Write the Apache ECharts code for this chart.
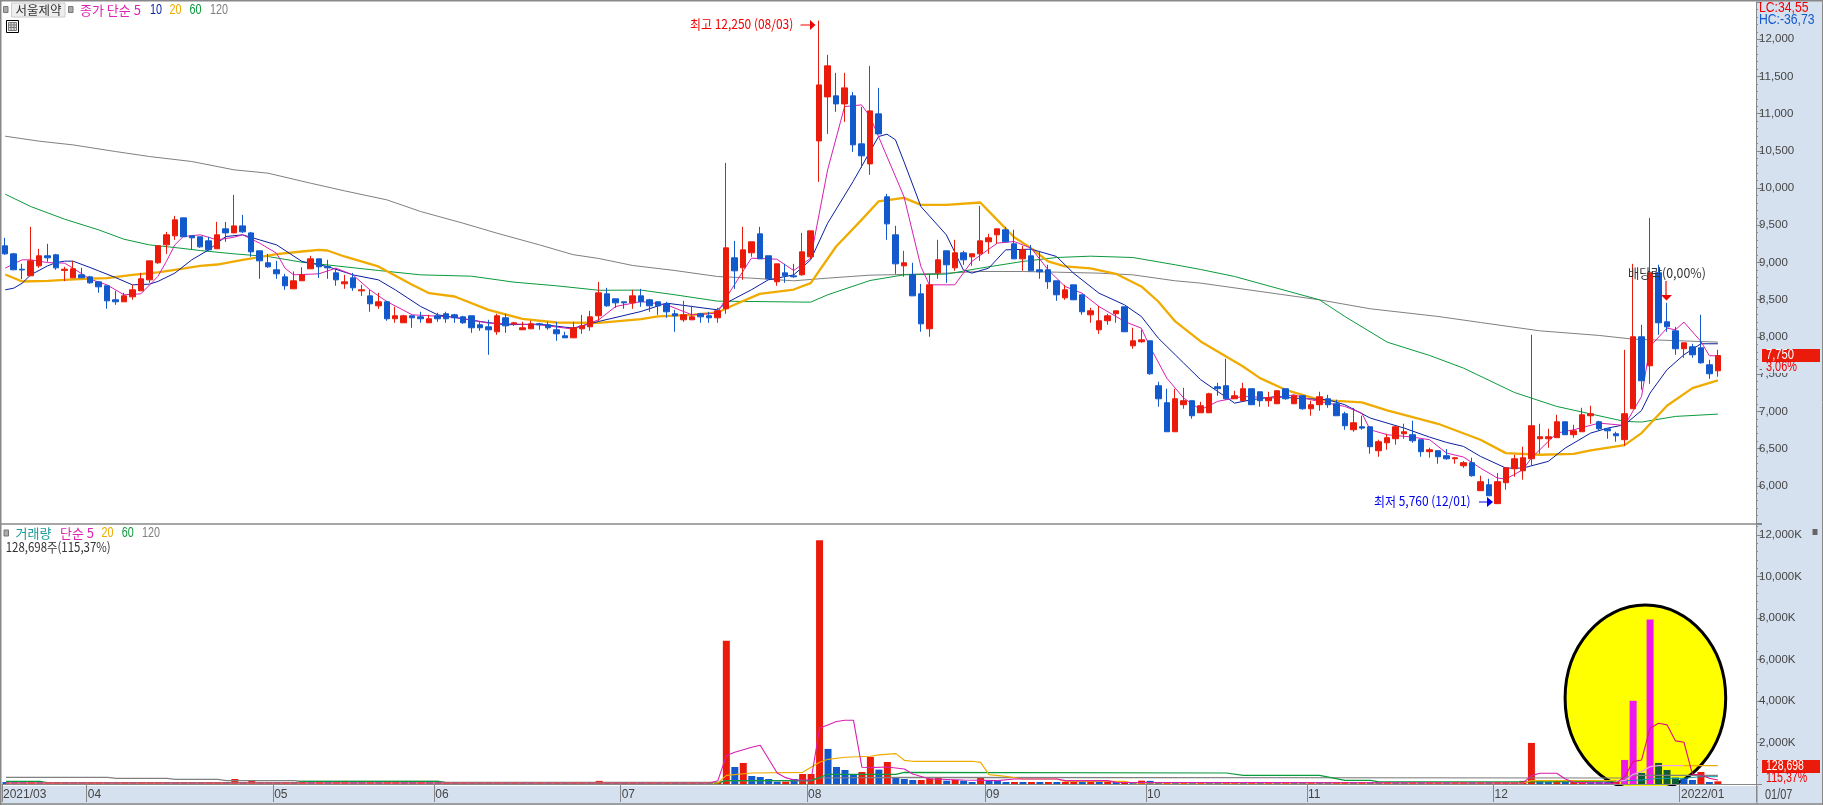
<!DOCTYPE html>
<html><head><meta charset="utf-8">
<style>html,body{margin:0;padding:0;background:#fff;overflow:hidden}#c{width:1823px;height:805px}</style>
<script src="https://cdn.jsdelivr.net/npm/echarts@6/dist/echarts.min.js"></script>
</head><body><div id="c"></div>
<script>
const opens=[9224,9116,8910,8821,8955,9090,9103,8893,8794,8834,
8807,8740,8687,8499,8472,8539,8619,8767,8996,9237,
9358,9600,9358,9345,9291,9184,9452,9398,9492,9398,
9157,8996,8902,8807,8646,8754,8915,9049,8946,8861,
8714,8794,8619,8552,8418,8472,8244,8190,8284,8270,
8190,8284,8311,8297,8270,8284,8163,8136,8069,8257,
8176,8096,8109,8176,8163,8096,8015,7988,8109,8136,
8284,8579,8512,8472,8458,8552,8499,8472,8445,8311,
8230,8230,8311,8284,8257,8378,9063,8929,9130,9385,
9090,8741,8861,8821,8835,9076,10634,11225,11239,11131,
11239,10594,10325,10997,9882,9372,8955,8834,8579,8109,
8861,9157,8928,9130,9076,9117,9278,9372,9439,9251,
9049,9090,8902,8902,8754,8525,8700,8566,8297,8096,
8217,8311,8405,7881,7935,7948,7344,7116,6726,7089,
7143,6981,6981,7331,7344,7169,7143,7304,7263,7143,
7102,7304,7102,7210,7035,7089,7169,7102,6968,6753,
6793,6793,6471,6578,6632,6699,6686,6619,6458,6471,
6404,6363,6269,6310,5934,6014,5760,6041,6229,6202,
6363,6632,6632,6646,6860,6686,6726,6941,6860,6766,
6699,6619,7035,8002,7612,8862,8203,8082,7841,7868,7854,7626,7545];
const closes=[9116,8902,8900,9022,9090,9063,8928,8910,8915,8794,
8727,8673,8485,8472,8552,8633,8781,9022,9224,9372,
9573,9345,9331,9210,9170,9372,9398,9492,9412,9143,
9022,8942,8848,8687,8754,8834,9049,8942,8928,8767,
8740,8660,8633,8445,8472,8244,8284,8284,8257,8244,
8244,8244,8244,8257,8190,8123,8123,8096,8284,8149,
8190,8123,8176,8163,8123,8042,7988,8123,8149,8270,
8592,8418,8458,8458,8552,8472,8418,8418,8338,8284,
8297,8270,8270,8257,8351,9197,8888,9170,9278,9049,
8781,8982,8821,8808,9143,9425,11386,11642,11131,11346,
10581,10433,11037,10728,9519,8982,8996,8552,8176,8700,
9036,8969,9130,9036,9117,9291,9332,9452,9278,9049,
9170,8888,8875,8741,8566,8633,8499,8338,8351,8217,
8284,8351,8069,7948,7961,7505,7169,6726,7169,7143,
6941,7075,7236,7304,7169,7210,7304,7089,7143,7183,
7277,7169,7210,7035,7089,7196,7089,6941,6807,6847,
6775,6525,6592,6646,6793,6726,6605,6458,6484,6390,
6363,6377,6310,6135,6055,5866,6055,6242,6363,6377,
6807,6659,6659,6860,6686,6739,6954,6968,6766,6739,
6672,6968,8002,7411,8862,8190,8136,7841,7921,7760,7653,7505,7750];
const highs=[9331,9130,8982,9479,9184,9251,9116,8942,9022,8928,
8821,8740,8687,8619,8593,8700,8861,9022,9224,9412,
9627,9600,9358,9345,9345,9546,9546,9909,9640,9412,
9157,9116,9022,8848,8880,8937,9090,9049,9036,8915,
8834,8861,8700,8633,8593,8485,8405,8297,8284,8338,
8297,8324,8338,8311,8284,8284,8203,8230,8311,8311,
8203,8203,8217,8190,8203,8203,8069,8203,8297,8351,
8740,8660,8512,8472,8633,8646,8512,8472,8472,8364,
8485,8418,8324,8338,8391,10339,9291,9479,9278,9479,
9090,8982,8982,8982,9399,9425,12250,11789,11548,11548,
11292,11091,11642,11346,9922,9493,9157,8996,8713,8834,
9305,9157,9305,9157,9117,9761,9385,9452,9479,9439,
9224,9237,9157,8969,8754,8700,8700,8566,8391,8418,
8311,8351,8405,8123,8096,7948,7398,7304,7304,7317,
7143,7129,7250,7384,7707,7277,7384,7304,7263,7263,
7277,7304,7223,7210,7143,7263,7223,7156,6995,7048,
6941,6793,6619,6699,6793,6834,6874,6619,6511,6471,
6493,6386,6332,6377,6135,6095,6171,6242,6417,6525,
8029,6833,6766,6954,6860,6820,7048,7075,6874,6766,
6726,7827,8982,8163,9600,8969,8459,8136,7921,7908,8297,7693,7827];
const lows=[9103,8902,8776,8821,8928,9009,8902,8749,8794,8794,
8714,8593,8378,8431,8472,8499,8619,8727,8982,9116,
9304,9345,9170,9197,9157,9184,9278,9398,9398,9076,
8781,8928,8781,8633,8646,8754,8915,8794,8781,8687,
8646,8619,8552,8338,8378,8217,8190,8190,8123,8190,
8190,8203,8190,8190,8176,8055,8082,7760,8029,8055,
8149,8096,8109,8096,8096,7948,7988,7988,8042,8082,
8217,8405,8391,8378,8378,8405,8338,8297,8257,8069,
8203,8230,8190,8190,8190,8311,8646,8767,9076,9049,
8767,8687,8727,8794,8821,9049,10084,10728,11024,10889,
10486,10272,10178,10728,9305,8848,8808,8552,8069,8002,
8781,8727,8888,8969,8955,9023,9117,9251,9278,9049,
8888,8888,8781,8646,8485,8499,8499,8297,8190,8042,
8163,8190,8069,7841,7921,7492,7062,6726,6726,7035,
6901,6981,6981,7210,7156,7169,7143,7089,7062,7062,
7102,7156,7102,7022,6941,7008,7048,6941,6753,6726,
6753,6431,6390,6484,6552,6632,6578,6390,6377,6296,
6350,6296,6242,6122,5934,5866,5760,5947,6122,6082,
6269,6430,6511,6646,6686,6645,6726,6833,6739,6632,
6592,6538,7035,7290,7371,8029,8069,7760,7720,7720,7639,7438,7465];
const volumes=[70,50,40,60,50,70,75,50,45,40,
70,80,60,50,60,50,70,75,80,60,
50,45,40,35,60,70,50,240,80,160,
70,60,55,70,50,55,45,60,50,65,
70,50,45,60,50,55,60,45,40,55,
45,40,60,50,65,50,45,40,50,45,
60,50,40,60,45,55,50,60,70,50,
150,70,50,45,60,40,55,50,90,80,
70,90,85,50,80,6900,820,1014,386,338,
241,113,113,241,483,483,11750,1690,820,676,
466,580,1304,692,1062,306,241,193,193,274,
290,161,193,161,97,290,161,145,64,80,
50,60,40,55,45,50,60,40,70,45,
50,40,60,50,160,150,60,80,50,70,
45,60,50,40,55,70,50,60,45,55,
40,60,50,45,70,50,40,60,80,60,
70,50,40,60,50,45,70,50,60,70,
50,60,80,50,60,45,70,85,100,150,
1980,193,64,113,32,60,113,70,60,50,
60,1159,4009,531,7921,1014,676,306,241,193,580,97,129];

const ma5=[[0,8924],[1,8982],[2,9036],[3,9036],[5,8999],[7,8991],[8,8924],[10,8776],[12,8700],[14,8566],[16,8579],[18,8812],[19,9013],[20,9237],[21,9349],[23,9372],[25,9304],[27,9340],[28,9372],[30,9260],[32,9125],[33,8924],[34,8834],[37,8848],[39,8924],[41,8834],[43,8633],[45,8476],[48,8297],[53,8266],[57,8185],[63,8163],[67,8105],[70,8230],[72,8409],[75,8476],[78,8432],[81,8297],[84,8320],[85,8521],[88,9058],[91,9045],[93,8892],[95,9058],[97,10245],[99,11095],[101,11118],[102,10961],[103,10692],[106,9887],[108,8946],[109,8700],[112,8700],[114,9014],[117,9260],[119,9282],[121,9193],[123,8902],[125,8678],[127,8588],[129,8409],[132,8208],[134,8118],[135,7872],[137,7447],[139,7178],[141,7022],[143,7134],[146,7201],[150,7178],[152,7223],[154,7156],[158,7066],[160,6977],[161,6753],[163,6686],[166,6654],[168,6619],[170,6440],[172,6386],[174,6238],[176,6104],[177,6090],[179,6216],[180,6372],[183,6708],[185,6753],[188,6842],[191,6811],[193,7200],[194,7872],[196,8118],[197,8096],[198,8199],[200,7939],[201,7747],[202,7747]];
const ma10=[[0,8633],[1,8655],[2,8722],[3,8834],[5,8955],[6,8999],[7,9018],[8,9018],[10,8933],[11,8888],[13,8798],[15,8700],[17,8709],[18,8745],[20,8857],[22,9036],[24,9170],[26,9349],[28,9372],[30,9304],[32,9237],[35,9014],[38,8946],[41,8834],[44,8767],[46,8633],[49,8409],[51,8297],[56,8208],[59,8163],[63,8172],[67,8118],[70,8208],[75,8342],[78,8454],[81,8409],[84,8364],[85,8454],[88,8633],[90,8767],[93,8834],[95,9036],[97,9528],[100,10088],[101,10289],[103,10692],[104,10724],[105,10648],[106,10357],[108,9752],[111,9372],[113,8902],[114,8857],[116,8924],[118,9170],[121,9179],[124,9081],[126,8857],[129,8588],[132,8432],[134,8275],[136,7984],[138,7760],[139,7648],[141,7425],[143,7268],[145,7111],[147,7156],[150,7201],[152,7178],[156,7156],[158,7089],[161,6910],[165,6775],[168,6654],[170,6583],[172,6529],[174,6395],[177,6238],[179,6238],[182,6328],[184,6507],[187,6708],[189,6775],[191,6820],[193,7012],[194,7245],[196,7559],[198,7760],[200,7908],[202,7908]];
const ma20=[[0,8839],[2,8745],[5,8754],[7,8767],[10,8785],[12,8790],[15,8834],[18,8866],[20,8902],[23,8955],[25,8973],[28,9036],[30,9072],[32,9112],[35,9148],[37,9170],[38,9161],[40,9081],[44,8947],[48,8700],[50,8588],[53,8543],[57,8364],[61,8243],[65,8194],[70,8190],[75,8239],[77,8275],[81,8297],[84,8329],[86,8432],[89,8579],[93,8637],[95,8723],[98,9215],[101,9573],[103,9820],[106,9869],[108,9775],[111,9775],[115,9806],[117,9573],[119,9340],[121,9193],[123,9014],[125,8947],[128,8920],[131,8848],[134,8678],[136,8476],[138,8208],[141,7939],[146,7603],[148,7447],[151,7290],[155,7155],[160,7120],[163,7012],[169,6833],[174,6618],[177,6439],[181,6417],[185,6430],[187,6475],[191,6547],[193,6708],[196,7075],[199,7312],[202,7415]];
const ma60=[[0,9918],[3,9752],[7,9582],[11,9439],[14,9313],[17,9237],[20,9201],[23,9161],[27,9116],[31,9080],[35,9004],[44,8893],[49,8834],[55,8816],[60,8736],[65,8687],[70,8627],[75,8629],[79,8566],[84,8481],[95,8467],[97,8566],[102,8758],[106,8834],[111,8844],[115,8924],[120,9014],[124,9067],[128,9085],[133,9067],[138,8969],[141,8906],[145,8812],[150,8655],[155,8499],[158,8275],[163,7930],[168,7751],[172,7581],[178,7254],[183,7066],[191,6865],[193,6856],[197,6932],[202,6963]];
const ma120=[[0,10697],[4,10630],[8,10580],[13,10491],[17,10424],[22,10357],[27,10245],[31,10200],[36,10066],[40,9963],[45,9842],[49,9685],[54,9528],[58,9394],[63,9237],[67,9105],[70,9054],[74,8960],[79,8892],[84,8812],[88,8790],[93,8754],[97,8790],[102,8830],[106,8839],[111,8857],[115,8879],[120,8879],[124,8870],[129,8857],[133,8834],[138,8754],[141,8723],[155,8499],[161,8378],[169,8275],[174,8194],[181,8082],[188,8020],[192,7970],[202,7930]];

const volMa5=[[0,48],[83,48],[84,161],[85,1368],[86,1530],[88,1771],[89,1868],[91,531],[92,306],[93,193],[95,193],[96,2689],[98,3011],[99,3075],[100,3075],[101,805],[102,789],[104,821],[106,725],[107,483],[109,241],[113,193],[117,161],[119,241],[124,241],[125,161],[130,161],[131,80],[179,48],[180,403],[181,515],[183,515],[184,241],[185,80],[190,32]];
const volMa5Spot=[[190,32],[191,354],[192,1079],[193,1159],[194,2689],[195,2930],[196,2850],[197,2077],[198,2012],[199,467],[200,435],[201,274],[202,193]];
const volMa20=[[0,40],[84,48],[85,418],[88,531],[94,563],[96,1046],[97,1190],[99,1288],[102,1336],[103,1400],[105,1465],[106,1143],[107,1095],[114,1095],[115,1046],[116,451],[118,370],[120,241],[124,241],[125,129],[132,129],[133,48],[179,48],[180,160],[190,160]];
const volMa20Spot=[[190,160],[191,161],[192,467],[193,596],[194,837],[195,885],[198,885]];
const volMa20Rest=[[198,885],[202,885]];
const volMa60=[[0,129],[4,129],[5,60],[34,60],[35,129],[51,129],[52,48],[84,48],[85,161],[95,161],[97,467],[105,467],[106,563],[144,531],[146,418],[155,418],[158,177],[161,177],[162,100],[180,100],[190,140]];
const volMa60Spot=[[190,140],[193,193],[195,274],[198,274],[200,354],[202,354]];
const volMa120=[[0,322],[12,322],[13,274],[19,274],[20,225],[25,225],[26,161],[34,161],[35,129],[51,129],[52,80],[84,80],[85,161],[95,161],[96,290],[106,322],[191,290],[192,418],[202,418]];

const monthIdx=[0,10,32,51,73,95,116,135,154,176,198];
const monthLbl=['2021/03','04','05','06','07','08','09','10','11','12','2022/01'];
const SLOTS=207;
const categories=Array.from({length:SLOTS},(_,i)=>{const k=monthIdx.indexOf(i);return k>=0?monthLbl[k]:'';});

const RED='#EA1B0B',BLUE='#1259CC',PINK='#EE18EE',DKGREEN='#0F5C37';
const STRIP='#D6E1EF',LINE='#888888',TXT='#444444';
const FONT='"Liberation Sans",sans-serif';
const KFONT='"Noto Sans CJK KR","Liberation Sans",sans-serif';

const candleData=opens.map((o,i)=>[o,closes[i],lows[i],highs[i]]);
const blueOverride=[93];
const volData=volumes.map((v,i)=>{
  let up=i===0?false:v>=volumes[i-1];
  if(blueOverride.includes(i))up=false;
  let c=up?RED:BLUE;
  if(i>=191&&i<=197)c=up?PINK:DKGREEN;
  return {value:v,itemStyle:{color:c}};
});

function line(name,data,color,width,gi){
  return {name,type:'line',data,xAxisIndex:gi,yAxisIndex:gi,symbol:'none',silent:true,z:gi?5:3,
    lineStyle:{color,width},animation:false};
}
function t(text,x,y,color,size,font,sx){
  return {type:'text',x,y,z:20,silent:true,scaleX:sx||1,scaleY:1,style:{text,fill:color,font:(size||14)+'px '+(font||FONT),textVerticalAlign:'middle',verticalAlign:'middle',align:'left'}};
}
function n(text,x,y,color,sx){return t(text,x,y,color,14,FONT,sx||0.77);}
function r(x,y,w,h,fill,z,stroke){
  return {type:'rect',silent:true,z,shape:{x,y,width:w,height:h},style:{fill,stroke:stroke||null,lineWidth:1}};
}
function l(x1,y1,x2,y2,color,z,w){
  return {type:'line',silent:true,z:z||20,shape:{x1,y1,x2,y2},style:{stroke:color,lineWidth:w||1}};
}
function tri(pts,color){
  return {type:'polygon',silent:true,z:20,shape:{points:pts},style:{fill:color}};
}
const tableIcon=[r(6.5,20.5,12,12,'#fff',20,'#000'),r(8.5,22.5,8,8,'#ddd',20,'#777'),l(8.5,25,16.5,25,'#777'),l(8.5,27.5,16.5,27.5,'#777'),l(11,22.5,11,30.5,'#777'),l(14,22.5,14,30.5,'#777')];

const graphics=[
  {type:'ellipse',silent:true,z:1,shape:{cx:1645.4,cy:698,rx:80.3,ry:93},style:{fill:'#FFFF00',stroke:'#000',lineWidth:3}},
  r(0,786,1823,19,STRIP,2),
  r(1757,0,66,805,STRIP,2),
  l(0,0.5,1823,0.5,LINE,3,2),
  l(0.5,0,0.5,805,LINE,3,2),
  l(1822.5,0,1822.5,805,LINE,3,1),
  l(0,524,1757,524,LINE,3,1.5),
  l(0,804,1823,804,LINE,6,1.5),
  l(1757,786,1757,804,LINE,6,1),
  // legend
  r(3.5,6.5,4.5,6,'#aaa',20,'#777'),
  r(11.5,3,53.5,14,'#EEEEEE',20,'#CCCCCC'),
  t('서울제약',15.5,10,'#333',12.5,KFONT),
  r(68.5,6.5,4.5,6,'#aaa',20,'#777'),
  t('종가 단순 5',80,10,'#DD22B4',13,KFONT),
  n('10',150,10,'#0A1FA0'),
  n('20',169.5,10,'#EFAB00'),
  n('60',189.5,10,'#0B9A3C'),
  n('120',210,10,'#808080'),
  ...tableIcon,
  // annotations
  t('최고 12,250 (08/03)',690,24.5,'#F00000',13,KFONT,0.92),
  l(800.5,25,812,25,'#F00000'),tri([[810,20],[815.5,25],[810,30]],'#F00000'),
  t('최저 5,760 (12/01)',1374,501,'#0000F0',13,KFONT,0.92),
  l(1479,502,1489,502,'#0000F0'),tri([[1487,497],[1493,502],[1487,507]],'#0000F0'),
  t('배당락(0,00%)',1628,273,'#333',13,KFONT,0.95),
  l(1666,281,1666,296,'#F00000',20,1.2),tri([[1661,295],[1672,295],[1666.5,300.5]],'#F00000'),
  // right tags
  n('LC:34,55',1759,8,'#F00000',0.87),
  n('HC:-36,73',1759,20,'#1259CC',0.87),
  r(1762,349,58,13,RED,20),
  n('7,750',1766,355.5,'#fff',0.8),
  r(1762,362,58,11,STRIP,19),
  n('3,06%',1766,367.5,'#F00000',0.78),
  // vol legend
  r(4,530,4.5,6,'#aaa',20,'#777'),
  t('거래량',15.5,533.5,'#189A9A',13,KFONT),
  t('단순 5',60,533.5,'#DD22B4',13,KFONT),
  n('20',101.6,533.5,'#EFAB00'),
  n('60',121.7,533.5,'#0B9A3C'),
  n('120',142,533.5,'#808080'),
  t('128,698주(115,37%)',5.7,546.7,'#333',13,KFONT,0.88),
  r(1812.5,529,5,6,'#666',20),
  r(1762,760,58,13,RED,20),
  n('128,698',1766,766.5,'#fff',0.75),
  r(1762,773,58,11,STRIP,19),
  n('115,37%',1766,778.5,'#F00000',0.76),
  n('01/07',1765,795,TXT,0.78),
];

const showMonth=(i)=>monthIdx.includes(i);
const option={
  animation:false,
  backgroundColor:'#fff',
  graphic:{elements:graphics},
  grid:[
    {left:1,top:2,width:1755,height:521,containLabel:false},
    {left:1,top:524.6,width:1755,height:259.4,containLabel:false}
  ],
  xAxis:[
    {type:'category',gridIndex:0,data:categories,boundaryGap:true,show:false},
    {type:'category',gridIndex:1,data:categories,boundaryGap:true,z:5,offset:2,
      axisLine:{lineStyle:{color:LINE,width:1}},
      axisTick:{show:true,length:18,inside:false,alignWithLabel:false,interval:(i)=>showMonth(i),lineStyle:{color:LINE,width:1}},
      axisLabel:{interval:0,hideOverlap:false,margin:3,align:'left',padding:[0,0,0,-3],color:TXT,fontFamily:FONT,fontSize:12,verticalAlign:'top'},
      splitLine:{show:false}}
  ],
  yAxis:[
    {type:'value',gridIndex:0,position:'right',min:5500,max:12500,interval:500,z:5,
      axisLine:{show:true,lineStyle:{color:LINE,width:1}},
      axisTick:{show:true,length:6,lineStyle:{color:LINE}},
      minorTick:{show:true,splitNumber:5,length:2,lineStyle:{color:LINE}},
      splitLine:{show:false},minorSplitLine:{show:false},
      axisLabel:{margin:3,color:TXT,fontFamily:FONT,fontSize:11.5,
        formatter:(v)=>(v<6000||v>12000)?'':v.toLocaleString('en-US')}},
    {type:'value',gridIndex:1,position:'right',min:0,max:12500,interval:2000,z:5,
      axisLine:{show:true,lineStyle:{color:LINE,width:1}},
      axisTick:{show:true,length:6,lineStyle:{color:LINE}},
      minorTick:{show:true,splitNumber:5,length:2,lineStyle:{color:LINE}},
      splitLine:{show:false},minorSplitLine:{show:false},
      axisLabel:{margin:3,color:TXT,fontFamily:FONT,fontSize:11.5,
        formatter:(v)=>(v===0||v%2000!==0)?'':v.toLocaleString('en-US')+'K'}}
  ],
  series:[
    line('종가 단순 120',ma120,'#808080',1,0),
    line('종가 단순 60',ma60,'#0B9A3C',1,0),
    line('종가 단순 20',ma20,'#EFAB00',2.3,0),
    line('종가 단순 10',ma10,'#0A1FA0',1,0),
    line('종가 단순 5',ma5,'#D91FB0',1,0),
    {name:'서울제약',type:'candlestick',xAxisIndex:0,yAxisIndex:0,data:candleData,barWidth:6,z:4,silent:true,animation:false,
      itemStyle:{color:RED,color0:BLUE,borderColor:RED,borderColor0:BLUE,borderWidth:1}},
    {name:'거래량',type:'bar',xAxisIndex:1,yAxisIndex:1,data:volData,barWidth:7,barMinHeight:2,z:4,silent:true,animation:false},
    line('거래량 120',volMa120,'#808080',1.2,1),
    line('거래량 60',volMa60,'#0B9A3C',1.2,1),
    line('거래량 60 ',volMa60Spot,'#10A0B0',1,1),
    line('거래량 20',volMa20,'#EFAB00',1.2,1),
    line('거래량 20 ',volMa20Spot,'#F0A0E8',1.2,1),
    line('거래량 20  ',volMa20Rest,'#EFAB00',1.2,1),
    line('거래량 5',volMa5,'#D91FB0',1.1,1),
    line('거래량 5 ',volMa5Spot,'#E0107A',1.1,1)
  ]
};
const chart=echarts.init(document.getElementById('c'),null,{renderer:'canvas',width:1823,height:805});
chart.setOption(option);
</script></body></html>
